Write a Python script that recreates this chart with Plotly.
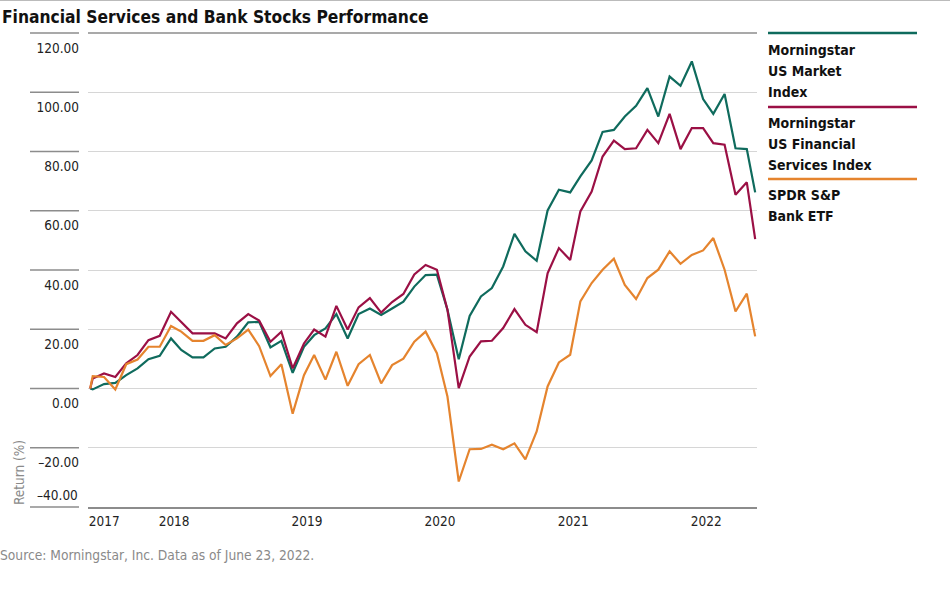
import plotly.graph_objects as go

# ---------------- data ----------------
dates = [
    "2017-06-23", "2017-06-30", "2017-07-31", "2017-08-31", "2017-09-30", "2017-10-31", "2017-11-30", "2017-12-31",
    "2018-01-31", "2018-02-28", "2018-03-31", "2018-04-30", "2018-05-31", "2018-06-30",
    "2018-07-31", "2018-08-31", "2018-09-30", "2018-10-31", "2018-11-30", "2018-12-31",
    "2019-01-31", "2019-02-28", "2019-03-31", "2019-04-30", "2019-05-31", "2019-06-30",
    "2019-07-31", "2019-08-31", "2019-09-30", "2019-10-31", "2019-11-30", "2019-12-31",
    "2020-01-31", "2020-02-29", "2020-03-31", "2020-04-30", "2020-05-31", "2020-06-30",
    "2020-07-31", "2020-08-31", "2020-09-30", "2020-10-31", "2020-11-30", "2020-12-31",
    "2021-01-31", "2021-02-28", "2021-03-31", "2021-04-30", "2021-05-31", "2021-06-30",
    "2021-07-31", "2021-08-31", "2021-09-30", "2021-10-31", "2021-11-30", "2021-12-31",
    "2022-01-31", "2022-02-28", "2022-03-31", "2022-04-30", "2022-05-31", "2022-06-23",
]

us_market = [
    0.0, -0.3, 1.5, 1.9, 4.5, 6.8, 9.9, 11.0,
    16.9, 13.0, 10.5, 10.5, 13.5, 14.1, 17.5, 22.3, 22.5, 13.9, 16.1, 5.3,
    14.1, 18.0, 20.3, 25.1, 16.9, 25.1, 27.0, 24.8, 27.0, 29.3, 34.4, 38.3,
    38.4, 26.6, 9.9, 24.5, 31.1, 33.9, 41.2, 52.2, 46.3, 43.1, 60.1, 67.1,
    66.2, 71.6, 77.0, 86.6, 87.3, 91.8, 95.4, 101.4, 91.8, 105.3, 102.2, 110.4,
    97.7, 92.7, 99.4, 81.1, 80.8, 66.2,
]

us_financial = [
    0.0, 3.4, 5.1, 3.9, 8.5, 11.3, 16.3, 17.8,
    25.9, 22.5, 18.6, 18.6, 18.6, 16.9, 22.0, 25.1, 22.9, 15.8, 19.2, 6.8,
    15.2, 19.9, 17.5, 27.9, 19.9, 27.4, 30.5, 25.6, 29.2, 31.9, 38.5, 41.7,
    40.1, 26.6, 0.1, 10.8, 15.9, 16.1, 20.4, 26.8, 21.5, 19.0, 38.9, 47.4,
    43.4, 59.8, 66.5, 78.3, 83.7, 80.8, 81.1, 87.3, 82.8, 92.7, 80.8, 87.9,
    87.9, 82.8, 82.3, 65.4, 69.6, 50.4,
]

bank_etf = [
    0.0, 4.2, 3.9, -0.3, 8.2, 9.8, 14.1, 14.1,
    21.1, 19.2, 16.1, 16.1, 18.0, 14.7, 16.9, 19.9, 14.3, 4.2, 8.2, -8.5,
    4.5, 11.3, 3.0, 12.4, 0.9, 8.2, 11.3, 1.7, 7.9, 10.1, 15.8, 19.2,
    11.9, -2.7, -31.4, -20.5, -20.4, -19.0, -20.5, -18.5, -23.9, -14.5, 0.7, 8.8,
    11.4, 29.4, 35.6, 40.1, 43.8, 35.0, 30.2, 37.3, 40.1, 46.3, 42.1, 45.1,
    46.6, 50.8, 40.1, 26.0, 32.0, 17.6,
]

series_names = [["Morningstar", "US Market", "Index"],
                ["Morningstar", "US Financial", "Services Index"],
                ["SPDR S&P", "Bank ETF"]]
series_values = [us_market, us_financial, bank_etf]

y_ticks = [-40, -20, 0, 20, 40, 60, 80, 100, 120]
x_tickvals = ["2017-06-23", "2018-01-01", "2019-01-01", "2020-01-01", "2021-01-01", "2022-01-01"]
x_ticktext = ["2017", "2018", "2019", "2020", "2021", "2022"]

title_text = "Financial Services and Bank Stocks Performance"
source_text = "Source: Morningstar, Inc. Data as of June 23, 2022."
y_title = "Return (%)"

# ---------------- styling ----------------
colors = ["#0f6b5d", "#9b1045", "#e5842e"]
FONT = "DejaVu Sans Condensed, Liberation Sans Narrow, Roboto, sans-serif"
W, H = 950, 590
L, R, T, B = 88, 193, 33, 83
PW, PH = W - L - R, H - T - B
Y_MIN, Y_MAX = -40, 120


def px_x(x):
    return (x - L) / PW


def px_y(y):
    return (H - B - y) / PH


def val_to_paper(v):
    return (v - Y_MIN) / (Y_MAX - Y_MIN)


def fmt(v):
    return ("\u2013%.2f" % abs(v)) if v < 0 else "%.2f" % v


fig = go.Figure()
for name, vals, col in zip(series_names, series_values, colors):
    fig.add_trace(go.Scatter(
        x=dates, y=vals, mode="lines", name=" ".join(name),
        line=dict(color=col, width=2.2), showlegend=False,
    ))

shapes = []
annotations = []
# short dark segments left of each y tick
for v in y_ticks:
    yp = val_to_paper(v)
    shapes.append(dict(type="line", xref="paper", yref="paper",
                       x0=px_x(30), x1=px_x(79), y0=yp, y1=yp,
                       line=dict(color="#8c8c8c", width=1.3)))
# darker top gridline
shapes.append(dict(type="line", xref="paper", yref="paper", x0=0, x1=1, y0=1, y1=1,
                   line=dict(color="#8c8c8c", width=1.3), layer="below"))
# page top border
shapes.append(dict(type="line", xref="paper", yref="paper", x0=px_x(0), x1=px_x(W),
                   y0=px_y(0.5), y1=px_y(0.5), line=dict(color="#bbbbbb", width=1)))

# lowest tick label sits above its line
annotations.append(dict(xref="paper", yref="paper", x=px_x(80), y=val_to_paper(Y_MIN) + 12 / PH,
                        xanchor="right", yanchor="middle", showarrow=False,
                        text=fmt(Y_MIN), font=dict(family=FONT, size=13.5, color="#222222")))

# custom legend
legend_line_y = [33, 107, 179]
legend_text_y = [[49, 70, 91], [122, 143, 164], [194, 215]]
for name, col, ly, tys in zip(series_names, colors, legend_line_y, legend_text_y):
    shapes.append(dict(type="line", xref="paper", yref="paper",
                       x0=px_x(768), x1=px_x(917), y0=px_y(ly), y1=px_y(ly),
                       line=dict(color=col, width=2.5)))
    for part, ty in zip(name, tys):
        annotations.append(dict(xref="paper", yref="paper", x=px_x(766), y=px_y(ty + 1),
                                xanchor="left", yanchor="middle", align="left", showarrow=False,
                                text="<b>" + part + "</b>",
                                font=dict(family=FONT, size=14, color="#111111")))

annotations.append(dict(xref="paper", yref="paper", x=px_x(0), y=px_y(17),
                        xanchor="left", yanchor="middle", showarrow=False,
                        text="<b>" + title_text + "</b>",
                        font=dict(family=FONT, size=17.3, color="#111111")))
annotations.append(dict(xref="paper", yref="paper", x=px_x(-2), y=px_y(555),
                        xanchor="left", yanchor="middle", showarrow=False,
                        text=source_text,
                        font=dict(family=FONT, size=13.7, color="#8a8a8a")))
annotations.append(dict(xref="paper", yref="paper", x=px_x(18.5), y=px_y(507),
                        xanchor="center", yanchor="bottom", showarrow=False, textangle=-90,
                        text=y_title,
                        font=dict(family=FONT, size=13.5, color="#8a8a8a")))

fig.update_layout(
    width=W, height=H,
    margin=dict(l=L, r=R, t=T, b=B, pad=0),
    paper_bgcolor="white", plot_bgcolor="white",
    font=dict(family=FONT, size=13.5, color="#222222"),
    shapes=shapes, annotations=annotations,
    xaxis=dict(type="date", range=["2017-06-17", "2022-06-28"],
               tickvals=x_tickvals, ticktext=x_ticktext,
               showgrid=False, zeroline=False,
               showline=True, linecolor="#8c8c8c", linewidth=1.5,
               ticks="", ticklabelshift=14, ticklabelstandoff=1,
               tickfont=dict(family=FONT, size=13.5, color="#222222")),
    yaxis=dict(range=[Y_MIN, Y_MAX], tickvals=y_ticks,
               ticktext=["" if v == Y_MIN else fmt(v) for v in y_ticks],
               showgrid=True, gridcolor="#d6d6d6", gridwidth=1,
               zeroline=False, showline=False, ticks="",
               ticklabelshift=15, ticklabelstandoff=8,
               tickfont=dict(family=FONT, size=13.5, color="#222222")),
)

fig.write_html("out.html", config={"displayModeBar": False},
               post_script="document.body.style.margin='0px';document.body.style.overflow='hidden';")
